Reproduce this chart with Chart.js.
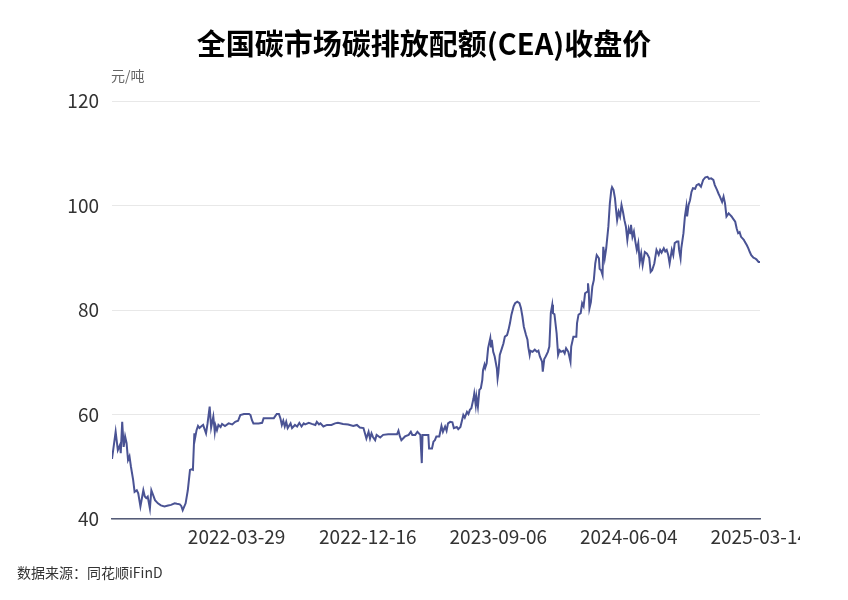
<!DOCTYPE html>
<html>
<head>
<meta charset="utf-8">
<script src="https://cdn.jsdelivr.net/npm/chart.js@4.4.1/dist/chart.umd.min.js"></script>
<style>
  body { margin: 0; background: #fff; }
  #wrap { position: relative; width: 848px; height: 600px; overflow: hidden; }
  #clip { position: absolute; left: 0; top: 0; width: 800px; height: 600px; overflow: hidden; }
  .txt { position: absolute; white-space: nowrap; font-family: 'Microsoft YaHei', 'Noto Sans CJK SC', sans-serif; }
  #title { left: 0; top: 22px; width: 848px; text-align: center; font-size: 29px; line-height: 40px; font-weight: bold; color: #000; }
  #unit { left: 111px; top: 66px; font-size: 14px; line-height: 18px; color: #666; }
  #source { left: 17px; top: 563px; font-size: 14px; line-height: 18px; color: #333; }
</style>
</head>
<body>
<div id="wrap">
  <div id="clip"><canvas id="priceChart" width="848" height="600"></canvas></div>
  <div class="txt" id="title">全国碳市场碳排放配额(CEA)收盘价</div>
  <div class="txt" id="unit">元/吨</div>
  <div class="txt" id="source">数据来源：同花顺iFinD</div>
</div>
<script>
// trading day number since 2021-07-16
var tradeDay = [
    0,5,8,11,12,14,16,18,20,22,24,26,29,31,34,36,39,43,45,47,
    49,52,54,59,63,67,72,77,81,86,89,93,95,97,101,104,107,109,111,113,
    114,116,118,120,123,125,129,131,134,136,139,141,
    142,144,146,149,151,155,160,165,169,173,176,181,188,190,192,194,201,206,208,217,
    222,226,229,231,233,235,237,239,241,245,247,251,254,257,260,263,265,270,274,279,
    281,284,286,290,295,
    301,306,310,317,324,331,336,340,345,347,349,352,354,356,358,361,363,368,372,379,
    386,391,393,395,397,402,407,410,412,416,419,423,425,426,429,434,435,439,441,443,
    445,449,452,454,
    457,459,461,464,467,469,473,475,478,482,
    484,487,489,491,493,496,497,499,500,502,
    504,506,508,509,511,512,514,516,519,520,
    521,523,525,528,529,530,532,535,537,539,
    542,544,546,548,551,553,556,559,561,563,
    565,568,570,571,573,574,577,580,583,585,
    587,590,591,593,595,598,600,602,604,605,
    607,610,612,614,616,619,621,623,626,629,
    630,633,637,638,640,643,645,647,649,652,
    653,654,655,657,659,661,663,665,668,669,
    671,673,674,676,678,681,683,685,686,688,
    690,692,693,695,697,699,701,703,705,707,
    709,711,712,714,716,718,720,722,724,726,
    728,731,734,737,739,741,744,747,750,752,
    754,757,759,761,763,765,768,770,772,775,
    777,778,780,781,784,786,788,789,791,793,
    795,797,800,802,805,808,811,814,817,819,
    822,825,827,830,832,834,837,839,841,843,
    846,848,850,852,855,857,859,861,863,865,
    867,868,871,873,875,877,880,882,884,887,
    889
];

// CEA close price, yuan/ton
var closePrice = [
    51.5,56.7,53.2,54.2,52.6,58.6,53.8,55.8,54.5,51.3,52,50,47.5,45.2,45.5,44.9,42.4,45.5,44.3,44.0,
    44.3,42,45.5,43.6,43,42.6,42.4,42.6,42.7,43,42.9,42.8,42.5,41.7,43,45.5,49.4,49.5,49.4,56.4,
    55.5,57,57.8,57.4,57.8,58,56.4,58.2,61.5,57.5,59.6,56.7,
    57.9,57,58,57.6,58.2,57.8,58.3,58.1,58.6,58.8,59.9,60.1,60.1,59.9,58.9,58.3,58.3,58.4,59.3,59.3,
    59.3,60.1,60.1,59.3,58,58.8,57.7,58.6,57.4,58.3,57.4,58,57.7,58.4,57.7,58.3,58.1,58.4,58.2,58,
    58.6,58.1,58.3,57.7,58,
    58,58.3,58.4,58.2,58.1,57.8,58,57.5,57.4,56.4,55.4,56.7,55.4,56.4,55.7,55.1,56.1,55.6,56.1,56.2,
    56.2,56.2,56.9,55.8,55.1,55.8,56.1,56.7,56.1,56.1,56.7,56.1,50.7,56.1,56.1,56.1,53.5,53.5,54.8,55.1,
    55.8,55.8,57.8,56.7,
    57.7,56.9,58.3,58.6,58.5,57.4,57.6,57.2,57.6,59.9,
    59.4,60.5,60.1,60.9,61.2,63.1,64,61.8,63.4,61.5,
    64.7,65,66.6,68.5,69.5,68.9,69.8,72.7,74.6,73,
    74.3,72,71.1,68.8,66.9,67.9,71.4,72.7,73.6,74.9,
    75.2,76.2,77.5,79.1,80.7,81.3,81.6,81.3,80.4,78.8,
    76.8,75.2,74.3,73,71.4,72.2,72,72.4,72,72.2,
    71.1,70.1,68.2,70.6,71.1,72,73,79.4,81,79.4,
    79.2,75.5,71.4,72.3,72,72.2,71.7,72.7,72,70.1,
    73,74.9,74.9,77.5,79.1,79.4,81.3,80.7,83.2,83.5,
    85.1,83.8,80.3,81.5,84.5,85.7,88.9,90.5,89.9,87.9,
    87.6,86.7,92.1,89.9,91.8,96,100.4,103,103.5,103,
    101.4,98.5,97.2,98.8,97.9,100.1,98.8,97.2,96,93.4,
    95.6,94.7,96.3,94,95,93.1,91.5,92.8,89.2,90.8,
    88.6,91.1,90.8,90,87.3,87.6,88.9,91.5,90.6,91.5,
    91,91.8,91.2,91.5,90.6,88.9,91.5,90.5,92.8,93.1,
    93.1,91.5,89.9,91.8,94.7,97.9,99.8,97.9,100.1,101,
    102.6,103.3,103.2,103.9,104.1,103.6,104.9,105.4,105.5,105.1,
    105.2,104.9,103.9,103,102.3,101.7,100.7,101.7,100.4,97.9,
    98.5,98.2,97.9,97.5,96.9,95.6,94.7,94.9,94,93.7,
    93.4,93.1,92.4,91.8,91.1,90.5,90,89.9,89.7,89.2,
    89.2
];

// x axis labels and the trading day they sit on
var tickLabels = ['2022-03-29', '2022-12-16', '2023-09-06', '2024-06-04', '2025-03-14'];
var tickDays   = [171, 351, 530, 709, 888];

var yTicks = [40, 60, 80, 100, 120];

function priceChart() {
    var ctx = document.getElementById('priceChart').getContext('2d');
    var tickFont = { family: "'Microsoft YaHei', 'Noto Sans CJK SC', sans-serif", size: 19 };

    var points = [];
    for (var i = 0; i < closePrice.length; i++) {
        points.push({ x: tradeDay[i], y: closePrice[i] });
    }

    return new Chart(ctx, {
        type: 'line',
        data: {
            datasets: [{
                label: 'CEA',
                data: points,
                borderColor: '#4a5394',
                borderWidth: 2,
                pointRadius: 0,
                tension: 0,
                fill: false
            }]
        },
        options: {
            responsive: false,
            animation: false,
            devicePixelRatio: 1,
            layout: { padding: { left: 0, right: 88, top: 101, bottom: 0 } },
            plugins: {
                legend: { display: false },
                tooltip: { enabled: false }
            },
            scales: {
                x: {
                    type: 'linear',
                    min: 0,
                    max: tradeDay[tradeDay.length - 1],
                    grid: { display: false, drawTicks: false },
                    border: { display: true, color: '#555c78', width: 1.5 },
                    ticks: {
                        autoSkip: false,
                        maxRotation: 0,
                        padding: 6,
                        color: '#333',
                        font: tickFont,
                        callback: function (value) {
                            var k = tickDays.indexOf(value);
                            return k < 0 ? '' : tickLabels[k];
                        }
                    },
                    afterBuildTicks: function (scale) {
                        scale.ticks = tickDays.map(function (d) { return { value: d }; });
                    },
                    afterFit: function (scale) {
                        scale.height = 81;
                        scale.paddingLeft = 0;
                        scale.paddingRight = 0;
                    }
                },
                y: {
                    min: yTicks[0],
                    max: yTicks[yTicks.length - 1],
                    grid: { color: '#e8e8e8', lineWidth: 1, drawTicks: false },
                    border: { display: false },
                    ticks: {
                        stepSize: 20,
                        padding: 13,
                        color: '#333',
                        font: tickFont
                    },
                    afterFit: function (scale) {
                        scale.width = 112;
                        scale.paddingTop = 0;
                        scale.paddingBottom = 0;
                    }
                }
            }
        }
    });
}

priceChart();
</script>
</body>
</html>
